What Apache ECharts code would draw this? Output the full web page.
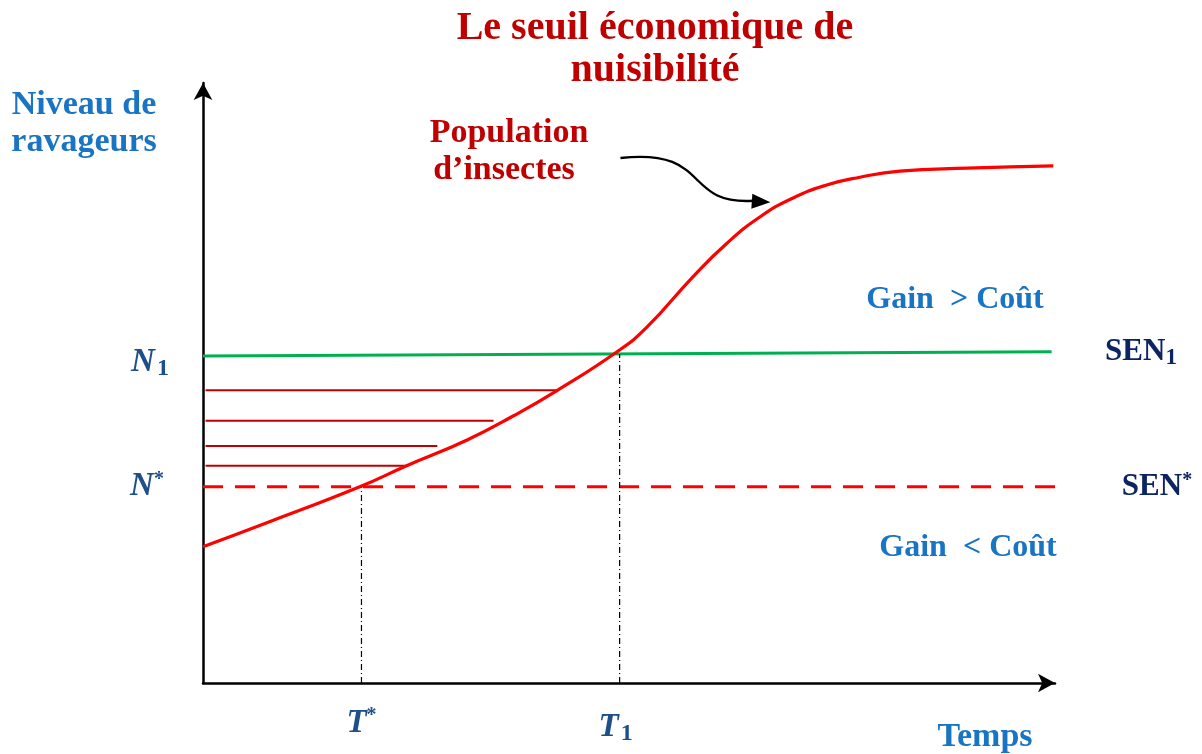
<!DOCTYPE html>
<html>
<head>
<meta charset="utf-8">
<script src="https://cdn.jsdelivr.net/npm/echarts@6/dist/echarts.min.js"></script>
<style>
  html, body { margin: 0; padding: 0; background: #fff; }
  #chart { width: 1202px; height: 754px; }
</style>
</head>
<body>
<div id="chart"></div>
<script>
// population d'insectes (temps, niveau)
var curveX = [0, 7.5, 18.4, 23.9, 31.0, 36.4, 41.5, 48.6, 52.1, 57.5, 61.5, 65.4, 69.2, 73.2, 77.1, 81.8, 89.7, 99.8];
var curveY = [22.7, 26.7, 32.7, 36.2, 40.5, 44.5, 48.7, 55.2, 59.3, 67.7, 73.3, 77.7, 80.8, 83.0, 84.3, 85.3, 85.8, 86.2];
// seuils
var sen1 = [54.5, 55.2];   // N1 (debut, fin)
var senStar = 32.7;        // N*
var tStar = 18.6;
var t1 = 48.9;
// hachures : niveau et fin sur la courbe
var hatchY = [48.8, 43.7, 39.5, 36.2];
var hatchEnd = [41.5, 34.1, 27.5, 23.9];

var FONT = '"Liberation Serif", "DejaVu Serif", serif';
var BLUE = '#1a74c4';
var NAVY = '#0d2462';
var MATH = '#1f4f8a';
var DARKRED = '#c00000';

const myChart = echarts.init(document.getElementById('chart'));

var curveData = curveX.map(function (x, i) { return [x, curveY[i]]; });

var series = [];
// hachures
for (let i = 0; i < hatchY.length; i++) {
  series.push({
    type: 'line', symbol: 'none', silent: true,
    data: [[0.3, hatchY[i]], [hatchEnd[i], hatchY[i]]],
    lineStyle: { color: DARKRED, width: 2 }
  });
}
series.push({
  type: 'line', symbol: 'none',
  data: [[0, sen1[0]], [99.6, sen1[1]]],
  lineStyle: { color: '#00b050', width: 3 }
});
series.push({
  type: 'line', symbol: 'none',
  data: [[0, senStar], [100, senStar]],
  lineStyle: { color: '#ff0000', width: 3, type: [20, 12] }
});
// lignes verticales T* et T1
series.push({
  type: 'line', symbol: 'none',
  data: [[tStar, 0], [tStar, senStar]],
  lineStyle: { color: '#000', width: 1.2, type: [6, 3, 1, 3] }
});
series.push({
  type: 'line', symbol: 'none',
  data: [[t1, 0], [t1, (sen1[0] + sen1[1]) / 2]],
  lineStyle: { color: '#000', width: 1.2, type: [6, 3, 1, 3] }
});
series.push({
  type: 'line', symbol: 'none', smooth: 0.5,
  data: curveData,
  lineStyle: { color: '#ff0000', width: 3.2 }
});

const options = {
  animation: false,
  grid: { left: 203, right: 147, top: 83, bottom: 71 },
  xAxis: {
    type: 'value', min: 0, max: 100,
    axisLine: { show: true, symbol: ['none', 'arrow'], symbolSize: [14, 17], lineStyle: { color: '#000', width: 2.5 } },
    axisTick: { show: false }, axisLabel: { show: false }, splitLine: { show: false }
  },
  yAxis: {
    type: 'value', min: 0, max: 100,
    axisLine: { show: true, symbol: ['none', 'arrow'], symbolSize: [14, 17], lineStyle: { color: '#000', width: 2.5 } },
    axisTick: { show: false }, axisLabel: { show: false }, splitLine: { show: false }
  },
  series: series
};
myChart.setOption(options, true);

function px(x, y) { return myChart.convertToPixel({ gridIndex: 0 }, [x, y]); }

function txt(x, y, text, style) {
  return {
    type: 'text', x: x, y: y, silent: true,
    style: Object.assign({ text: text, font: 'bold 34px ' + FONT, textAlign: 'center', textVerticalAlign: 'middle' }, style)
  };
}

var mathRich = {
  m: { fontSize: 33, fontWeight: 'bold', fontStyle: 'italic', fontFamily: FONT, fill: MATH },
  sub: { fontSize: 24, fontWeight: 'bold', fontFamily: FONT, fill: MATH, padding: [14, 0, 0, 2] },
  sup: { fontSize: 20, fontWeight: 'bold', fontFamily: FONT, fill: MATH, padding: [0, 0, 14, 0] },
  n: { fontSize: 31, fontWeight: 'bold', fontFamily: FONT, fill: NAVY },
  nsub: { fontSize: 23, fontWeight: 'bold', fontFamily: FONT, fill: NAVY, padding: [12, 0, 0, 0] },
  nsup: { fontSize: 20, fontWeight: 'bold', fontFamily: FONT, fill: NAVY, padding: [0, 0, 12, 0] }
};

function richTxt(x, y, text) {
  return {
    type: 'text', x: x, y: y, silent: true,
    style: { text: text, rich: mathRich, textAlign: 'center', textVerticalAlign: 'middle' }
  };
}

var pN1 = px(0, sen1[0]);
var pNs = px(0, senStar);
var pTs = px(tStar, 0);
var pT1 = px(t1, 0);
var pS1 = px(100, sen1[1]);
var pSs = px(100, senStar);

// fleche d'annotation
var a0 = px(49.0, 87.5), a1 = px(66.0, 80.2);

myChart.setOption({
  graphic: [
    txt(655, 29, 'Le seuil économique de', { fill: DARKRED, font: 'bold 40px ' + FONT }),
    txt(655, 71, 'nuisibilité', { fill: DARKRED, font: 'bold 40px ' + FONT }),
    txt(509, 133, 'Population', { fill: DARKRED }),
    txt(504, 170, 'd’insectes', { fill: DARKRED }),
    txt(84, 105, 'Niveau de', { fill: BLUE }),
    txt(84, 142, 'ravageurs', { fill: BLUE }),
    txt(985, 737, 'Temps', { fill: BLUE }),
    txt(955, 300, 'Gain  > Coût', { fill: BLUE, font: 'bold 32px ' + FONT }),
    txt(968, 548, 'Gain  < Coût', { fill: BLUE, font: 'bold 32px ' + FONT }),
    richTxt(pN1[0] - 53, pN1[1] + 6, '{m|N}{sub|1}'),
    richTxt(pNs[0] - 56, pNs[1], '{m|N}{sup|*}'),
    richTxt(pTs[0], pTs[1] + 40, '{m|T}{sup|*}'),
    richTxt(pT1[0] - 4, pT1[1] + 44, '{m|T}{sub|1}'),
    richTxt(pS1[0] + 86, pS1[1], '{n|SEN}{nsub|1}'),
    richTxt(pSs[0] + 102, pSs[1], '{n|SEN}{nsup|*}'),
    {
      type: 'bezierCurve', silent: true,
      shape: { x1: a0[0], y1: a0[1], cpx1: 712, cpy1: 148, cpx2: 682, cpy2: 205, x2: a1[0] - 12, y2: a1[1] - 1 },
      style: { stroke: '#000', lineWidth: 2.4, fill: null }
    },
    {
      type: 'polygon', silent: true,
      shape: { points: [[a1[0] + 5, a1[1] + 0.5], [a1[0] - 13, a1[1] - 8], [a1[0] - 14, a1[1] + 7]] },
      style: { fill: '#000' }
    }
  ]
});

window.addEventListener('resize', function () {
  myChart.resize();
});
</script>
</body>
</html>
